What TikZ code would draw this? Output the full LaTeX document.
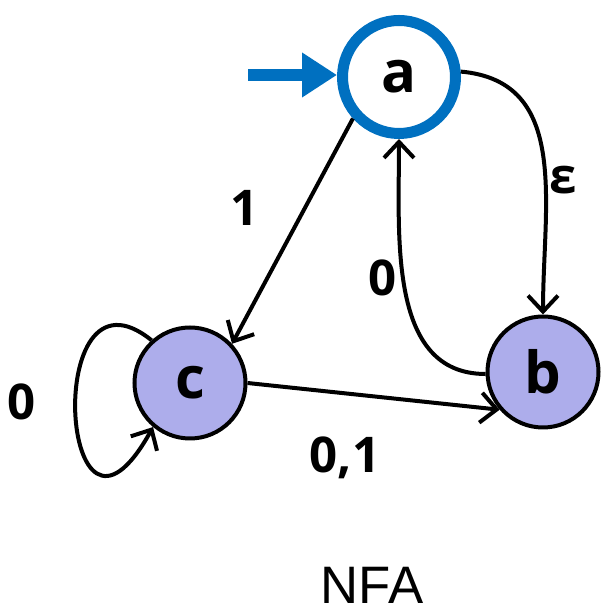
\documentclass[tikz,border=0pt]{standalone}
\usepackage{fontspec}
\setmainfont{Open Sans}
\newfontfamily\nfafont{Liberation Sans}
\usetikzlibrary{arrows, arrows.meta}
\definecolor{startblue}{HTML}{0070C0}
\definecolor{statefill}{HTML}{ADADEB}
\tikzstyle{initstate} = [circle, minimum size=2.26cm, inner sep=0pt, draw=startblue, line width=0.22cm, fill=white, font=\bfseries\fontsize{33}{36}\selectfont]
\tikzstyle{state} = [circle, minimum size=2.22cm, inner sep=0pt, draw=black, line width=0.08cm, fill=statefill, font=\bfseries\fontsize{33}{36}\selectfont]
\tikzstyle{trans} = [line width=0.08cm, -{Straight Barb[length=0.32cm, width=0.6cm]}]
\tikzstyle{startarrow} = [draw=startblue, line width=0.25cm, -{Triangle[length=0.7cm, width=0.85cm]}]
\tikzstyle{edgelabel} = [font=\bfseries\fontsize{28}{32}\selectfont]

\begin{document}
\begin{tikzpicture}

    \useasboundingbox (0,0) rectangle (12,12.3);

    % Nodes
    \node (a) [initstate] at (7.98,10.76) {a};
    \node (c) [state] at (3.80,4.64) {c};
    \node (b) [state] at (10.86,4.86) {b};
    \coordinate (start) at (4.96,10.80);

    % Arrows
    \draw [startarrow] (start) -- (a.west |- start);
    \draw [trans] (a.-138) -- (c.43);
    \draw [trans] (a.5) to[out=-5, in=90, looseness=1.1] (b.north);
    \draw [trans] (b.182) to[out=180, in=-90, looseness=1.0] (a.-90);
    \draw [trans] (c.east) -- (b.221);
    \draw [trans] (c.132) .. controls (0.8,7.3) and (1.2,0.4) .. (c.-130);

    % Labels
    \node (l1) at (4.90,8.14) [edgelabel] {1};
    \node (leps) at (11.26,8.70) [edgelabel] {ε};
    \node (l0ba) at (7.66,6.74) [edgelabel] {0};
    \node (l01) at (6.90,3.14) [edgelabel] {0,1};
    \node (l0loop) at (0.44,4.26) [edgelabel] {0};
    \node (title) at (7.44,0.60) [font=\nfafont\fontsize{30}{34}\selectfont] {NFA};

\end{tikzpicture}
\end{document}
